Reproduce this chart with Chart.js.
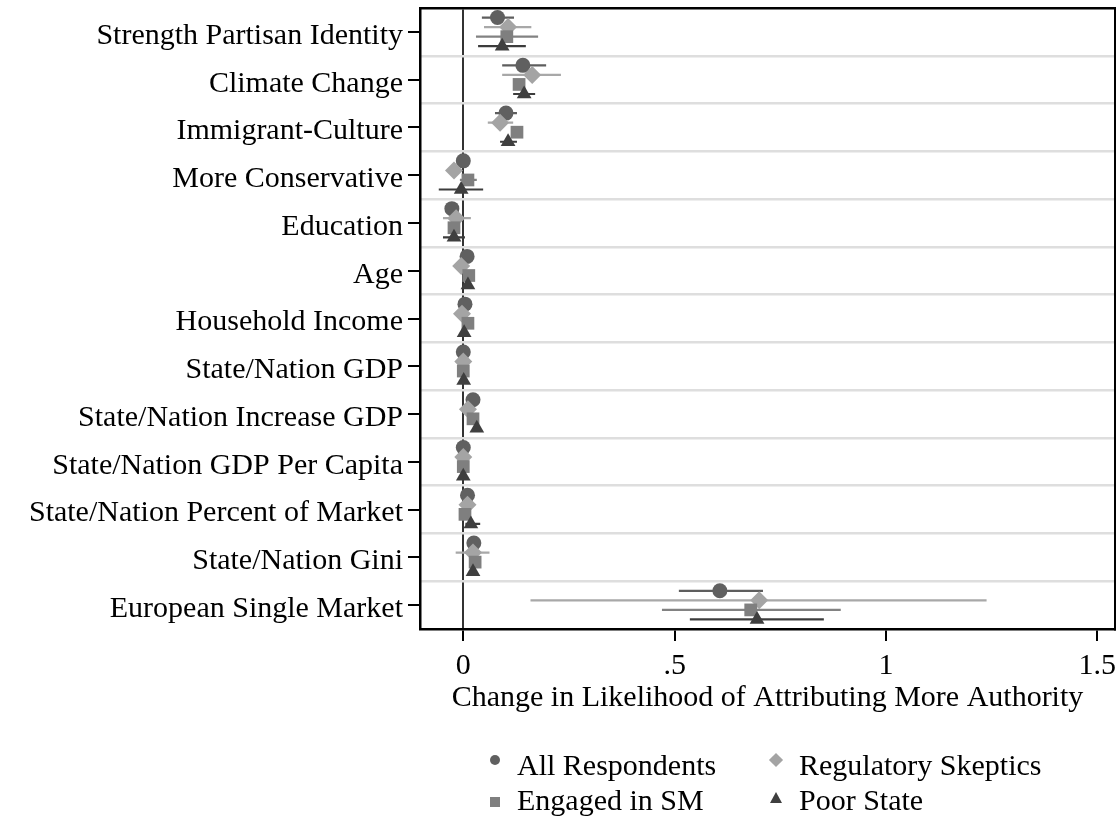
<!DOCTYPE html>
<html>
<head>
<meta charset="utf-8">
<title>Change in Likelihood of Attributing More Authority</title>
<script src="https://cdn.jsdelivr.net/npm/chart.js@4.4.1/dist/chart.umd.min.js"></script>
<style>
  body { margin: 0; background: #fff; }
  #wrap { position: relative; width: 1116px; height: 824px; font-family: 'Liberation Serif', serif; }
  .lg { position: absolute; font-size: 30px; line-height: 30px; color: #000; white-space: nowrap; }
  .mk { position: absolute; }
</style>
</head>
<body>
<div id="wrap">
  <canvas id="chart" width="1116" height="824"></canvas>
  <div id="legend"></div>
</div>
<script>
// rows, top to bottom
const rowLabels = [
  'Strength Partisan Identity', 'Climate Change', 'Immigrant-Culture', 'More Conservative',
  'Education', 'Age', 'Household Income', 'State/Nation GDP', 'State/Nation Increase GDP',
  'State/Nation GDP Per Capita', 'State/Nation Percent of Market', 'State/Nation Gini',
  'European Single Market'
];
const xTicks = [0, 0.5, 1, 1.5];
const xTickLabels = ['0', '.5', '1', '1.5'];

// All Respondents
const allEst = [0.081, 0.141, 0.101, 0.000, -0.027, 0.009, 0.004, 0.000, 0.023, 0.000, 0.010, 0.025, 0.607];
const allLo  = [0.044, 0.092, 0.075, -0.010, -0.035, 0.002, -0.003, -0.006, 0.016, -0.006, 0.003, 0.018, 0.510];
const allHi  = [0.120, 0.196, 0.127, 0.010, -0.018, 0.016, 0.011, 0.006, 0.030, 0.006, 0.017, 0.032, 0.709];
// Regulatory Skeptics
const regEst = [0.106, 0.163, 0.087, -0.022, -0.017, -0.005, -0.003, 0.000, 0.011, 0.000, 0.010, 0.023, 0.700];
const regLo  = [0.049, 0.092, 0.058, -0.030, -0.048, -0.013, -0.011, -0.008, 0.003, -0.008, 0.002, -0.018, 0.159];
const regHi  = [0.161, 0.231, 0.118, -0.012, 0.018, 0.003, 0.005, 0.008, 0.019, 0.008, 0.018, 0.062, 1.238];
// Engaged in SM
const smEst = [0.103, 0.132, 0.127, 0.011, -0.022, 0.013, 0.011, 0.000, 0.023, 0.000, 0.004, 0.028, 0.680];
const smLo  = [0.030, 0.118, 0.115, -0.008, -0.030, 0.005, 0.003, -0.007, 0.015, -0.007, -0.004, 0.020, 0.470];
const smHi  = [0.177, 0.146, 0.139, 0.032, -0.014, 0.021, 0.019, 0.007, 0.031, 0.007, 0.012, 0.036, 0.893];
// Poor State
const poorEst = [0.092, 0.144, 0.106, -0.005, -0.022, 0.011, 0.002, 0.001, 0.032, 0.000, 0.018, 0.023, 0.695];
const poorLo  = [0.035, 0.118, 0.087, -0.058, -0.048, 0.004, -0.005, -0.006, 0.025, -0.007, 0.005, 0.016, 0.536];
const poorHi  = [0.148, 0.170, 0.127, 0.047, 0.004, 0.018, 0.009, 0.008, 0.039, 0.007, 0.040, 0.030, 0.853];

const series = [
  { name: 'All Respondents', est: allEst, lo: allLo, hi: allHi, color: '#606060', bar: '#5e5e5e', style: 'circle', r: 7.5, shift: -0.3 },
  { name: 'Regulatory Skeptics', est: regEst, lo: regLo, hi: regHi, color: '#a4a4a4', bar: '#a8a8a8', style: 'rectRot', r: 9, shift: -0.1 },
  { name: 'Engaged in SM', est: smEst, lo: smLo, hi: smHi, color: '#7f7f7f', bar: '#828282', style: 'rect', r: 9, shift: 0.1 },
  { name: 'Poor State', est: poorEst, lo: poorLo, hi: poorHi, color: '#3f3f3f', bar: '#3c3c3c', style: 'triangle', r: 8.5, shift: 0.3 }
];

const datasets = [];
series.forEach((s, k) => {
  // confidence interval segments, broken by an empty point
  const seg = [];
  rowLabels.forEach((_, i) => {
    seg.push({ x: s.lo[i], y: i + s.shift }, { x: s.hi[i], y: i + s.shift }, { x: null, y: null });
  });
  datasets.push({
    label: s.name + ' CI', data: seg, showLine: true, spanGaps: false,
    borderColor: s.bar, borderWidth: 2.2, pointRadius: 0, order: 10
  });
  datasets.push({
    label: s.name,
    data: s.est.map((v, i) => ({ x: v, y: i + s.shift })),
    pointStyle: s.style, pointRadius: s.r, backgroundColor: s.color,
    borderWidth: 0, order: 4 - k
  });
});

const X_MIN = -0.1024, X_MAX = 1.5418;
Chart.defaults.font.family = "'Liberation Serif', serif";
Chart.defaults.font.size = 30;
Chart.defaults.color = '#000';

new Chart(document.getElementById('chart'), {
  type: 'scatter',
  data: { datasets },
  options: {
    responsive: false,
    animation: false,
    events: [],
    layout: { autoPadding: false, padding: { top: 8, right: 1, left: 0, bottom: 0 } },
    plugins: { legend: { display: false }, tooltip: { enabled: false } },
    scales: {
      x: {
        type: 'linear', position: 'bottom', min: X_MIN, max: X_MAX,
        afterBuildTicks: s => { s.ticks = xTicks.map(v => ({ value: v })); },
        ticks: { callback: v => xTickLabels[xTicks.indexOf(v)], padding: 7, maxRotation: 0, autoSkip: false },
        grid: { drawOnChartArea: false, tickLength: 12, color: '#000', lineWidth: 2 },
        border: { color: '#000', width: 2.5 },
        title: { display: true, text: 'Change in Likelihood of Attributing More Authority', padding: { top: 0, bottom: 108 } },
        afterFit: s => { s.height = 195; s.paddingLeft = 0; s.paddingRight = 0; }
      },
      xTop: {
        type: 'linear', position: 'top', min: X_MIN, max: X_MAX,
        afterBuildTicks: s => { s.ticks = [{ value: 0 }]; },
        ticks: { display: false },
        grid: { drawTicks: false, color: '#333', lineWidth: 2 },
        border: { color: '#000', width: 2.5 },
        afterFit: s => { s.height = 0; s.paddingLeft = 0; s.paddingRight = 0; }
      },
      y: {
        type: 'linear', reverse: true, min: -0.5, max: 12.5,
        afterBuildTicks: s => { s.ticks = rowLabels.map((_, i) => ({ value: i })); },
        ticks: { callback: v => rowLabels[v], padding: 5, autoSkip: false, labelOffset: 4 },
        grid: { drawOnChartArea: false, tickLength: 12, color: '#000', lineWidth: 2 },
        border: { color: '#000', width: 2.5 },
        afterFit: s => { s.width = 420; s.paddingTop = 0; s.paddingBottom = 0; }
      },
      ySep: {
        type: 'linear', position: 'right', reverse: true, min: -0.5, max: 12.5,
        afterBuildTicks: s => { s.ticks = rowLabels.slice(1).map((_, i) => ({ value: i + 0.5 })); },
        ticks: { display: false },
        grid: { drawTicks: false, color: '#dedede', lineWidth: 2.5 },
        border: { color: '#000', width: 2.5 },
        afterFit: s => { s.width = 0; s.paddingTop = 0; s.paddingBottom = 0; }
      }
    }
  }
});

// legend in two columns, as in the original figure
const legendSpots = [
  { mx: 495, my: 760, tx: 517, ty: 750 },
  { mx: 776, my: 760, tx: 799, ty: 750 },
  { mx: 495, my: 802, tx: 517, ty: 785 },
  { mx: 776, my: 798, tx: 799, ty: 785 }
];
const box = document.getElementById('legend');
series.forEach((s, j) => {
  const p = legendSpots[j];
  const m = document.createElement('div');
  m.className = 'mk';
  if (s.style === 'triangle') {
    m.style.cssText = `left:${p.mx - 6}px;top:${p.my - 6}px;width:0;height:0;` +
      `border-left:6px solid transparent;border-right:6px solid transparent;border-bottom:11px solid ${s.color};`;
  } else {
    const sz = 10;
    m.style.cssText = `left:${p.mx - sz / 2}px;top:${p.my - sz / 2}px;width:${sz}px;height:${sz}px;background:${s.color};`;
    if (s.style === 'circle') m.style.borderRadius = '50%';
    if (s.style === 'rectRot') m.style.transform = 'rotate(45deg)';
  }
  box.appendChild(m);
  const t = document.createElement('div');
  t.className = 'lg';
  t.style.left = p.tx + 'px';
  t.style.top = p.ty + 'px';
  t.textContent = s.name;
  box.appendChild(t);
});
</script>
</body>
</html>
